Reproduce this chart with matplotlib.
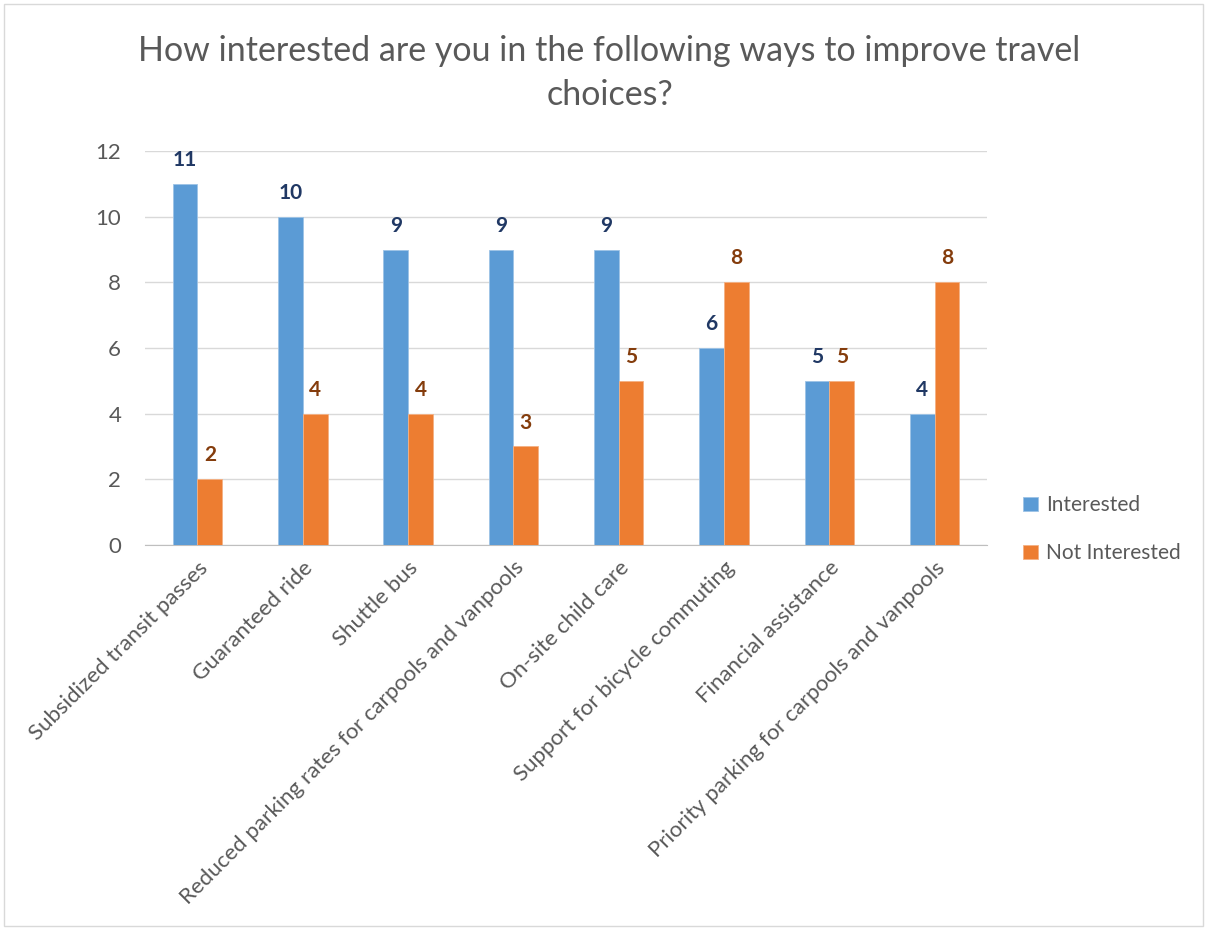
import matplotlib
matplotlib.use("Agg")
import matplotlib.pyplot as plt
import numpy as np

categories = [
    "Subsidized transit passes",
    "Guaranteed ride",
    "Shuttle bus",
    "Reduced parking rates for carpools and vanpools",
    "On-site child care",
    "Support for bicycle commuting",
    "Financial assistance",
    "Priority parking for carpools and vanpools",
]
interested = [11, 10, 9, 9, 9, 6, 5, 4]
not_interested = [2, 4, 4, 3, 5, 8, 5, 8]
series_names = ["Interested", "Not Interested"]
y_ticks = [0, 2, 4, 6, 8, 10, 12]
title = "How interested are you in the following ways to improve travel\nchoices?"

plt.rcParams["font.family"] = ["Lato", "DejaVu Sans"]

blue = "#5B9BD5"
orange = "#ED7D31"
gray_text = "#595959"

fig = plt.figure(figsize=(12.07, 9.30), dpi=100)
fig.patch.set_facecolor("white")
# light frame around the chart area
fig.add_artist(plt.Rectangle((0.003, 0.004), 0.994, 0.992, transform=fig.transFigure,
                             fill=False, edgecolor="#D9D9D9", linewidth=1.0))

ax = fig.add_axes([0.120, 0.414, 0.698, 0.4236])
x = np.arange(len(categories))
w = 0.235
b1 = ax.bar(x - w / 2, interested, w, color=blue, edgecolor="#9DC3E6", linewidth=0.6,
            label=series_names[0], zorder=3)
b2 = ax.bar(x + w / 2, not_interested, w, color=orange, edgecolor="#F4B183", linewidth=0.6,
            label=series_names[1], zorder=3)

for rect, v in zip(b1, interested):
    ax.annotate(str(v), (rect.get_x() + rect.get_width() / 2, v), xytext=(0, 10),
                textcoords="offset points", ha="center", va="bottom",
                fontsize=15, fontweight="bold", color="#203864")
for rect, v in zip(b2, not_interested):
    ax.annotate(str(v), (rect.get_x() + rect.get_width() / 2, v), xytext=(0, 10),
                textcoords="offset points", ha="center", va="bottom",
                fontsize=15, fontweight="bold", color="#843C0C")

ax.set_xlim(-0.5, len(categories) - 0.5)
ax.set_ylim(0, 12)
ax.set_yticks(y_ticks)
ax.yaxis.grid(True, color="#D9D9D9", linewidth=1.0, zorder=0)
ax.set_axisbelow(True)
for s in ["top", "right", "left"]:
    ax.spines[s].set_visible(False)
ax.spines["bottom"].set_color("#BFBFBF")
ax.tick_params(axis="both", length=0, labelsize=16, labelcolor=gray_text)
ax.tick_params(axis="y", pad=17)
ax.set_xticks(x)
ax.set_xticklabels(categories, rotation=45, ha="right", rotation_mode="anchor")
ax.tick_params(axis="x", pad=9)

fig.text(0.505, 0.962, title, ha="center", va="top", fontsize=24.5, color=gray_text,
         linespacing=1.45)

leg = ax.legend(loc="center left", bbox_to_anchor=(1.02, 0.04), frameon=False,
                fontsize=15, handlelength=0.7, handleheight=0.7, handletextpad=0.4,
                labelspacing=1.35, labelcolor=gray_text)

fig.savefig("out.png", dpi=100, facecolor="white")
